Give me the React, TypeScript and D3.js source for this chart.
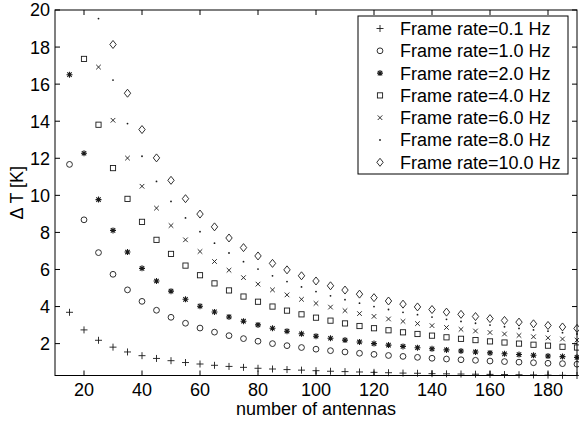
import React from "react";
import * as d3 from "d3";

// Number of antennas (x positions of every sample)
const antennas = [
  15, 20, 25, 30, 35, 40, 45, 50, 55, 60, 65, 70, 75, 80, 85, 90, 95, 100,
  105, 110, 115, 120, 125, 130, 135, 140, 145, 150, 155, 160, 165, 170, 175,
  180, 185, 190,
];

// Temperature uncertainty ΔT [K] per frame rate (first visible sample first)
const dt01 = [
  3.69, 2.74, 2.18, 1.81, 1.55, 1.35, 1.2, 1.08, 0.98, 0.9, 0.83, 0.77, 0.72,
  0.67, 0.63, 0.6, 0.57, 0.54, 0.51, 0.49, 0.47, 0.45, 0.43, 0.41, 0.4, 0.38,
  0.37, 0.36, 0.35, 0.34, 0.33, 0.32, 0.31, 0.3, 0.29, 0.28,
];
const dt1 = [
  11.67, 8.68, 6.91, 5.74, 4.9, 4.28, 3.8, 3.42, 3.1, 2.84, 2.62, 2.43, 2.27,
  2.13, 2.0, 1.89, 1.79, 1.7, 1.62, 1.55, 1.48, 1.42, 1.36, 1.31, 1.26, 1.21,
  1.17, 1.13, 1.1, 1.06, 1.03, 1.0, 0.97, 0.94, 0.92, 0.89,
];
const dt2 = [
  16.51, 12.27, 9.77, 8.11, 6.94, 6.06, 5.38, 4.83, 4.39, 4.02, 3.71, 3.44,
  3.21, 3.01, 2.83, 2.67, 2.53, 2.4, 2.29, 2.19, 2.09, 2.0, 1.92, 1.85, 1.78,
  1.72, 1.66, 1.6, 1.55, 1.5, 1.45, 1.41, 1.37, 1.33, 1.3, 1.26,
];
const dt4 = [
  17.36, 13.81, 11.47, 9.81, 8.57, 7.6, 6.84, 6.21, 5.69, 5.25, 4.87, 4.54,
  4.26, 4.0, 3.78, 3.58, 3.4, 3.24, 3.09, 2.95, 2.83, 2.72, 2.61, 2.52, 2.43,
  2.34, 2.26, 2.19, 2.12, 2.06, 2.0, 1.94, 1.89, 1.83, 1.79,
];
const dt6 = [
  16.92, 14.05, 12.01, 10.49, 9.31, 8.37, 7.6, 6.97, 6.43, 5.96, 5.56, 5.21,
  4.9, 4.63, 4.39, 4.17, 3.97, 3.78, 3.62, 3.47, 3.33, 3.2, 3.08, 2.97, 2.87,
  2.77, 2.68, 2.6, 2.52, 2.44, 2.37, 2.31, 2.25, 2.19,
];
const dt8 = [
  19.54, 16.22, 13.87, 12.11, 10.75, 9.67, 8.78, 8.04, 7.42, 6.89, 6.42, 6.02,
  5.66, 5.35, 5.06, 4.81, 4.58, 4.37, 4.18, 4.0, 3.84, 3.69, 3.56, 3.43, 3.31,
  3.2, 3.1, 3.0, 2.91, 2.82, 2.74, 2.67, 2.59, 2.52,
];
const dt10 = [
  18.14, 15.51, 13.55, 12.02, 10.81, 9.82, 8.99, 8.3, 7.7, 7.18, 6.73, 6.33,
  5.98, 5.66, 5.38, 5.12, 4.89, 4.67, 4.48, 4.3, 4.13, 3.98, 3.84, 3.7, 3.58,
  3.46, 3.35, 3.25, 3.16, 3.07, 2.98, 2.9, 2.82,
];

const labels = [
  "Frame rate=0.1 Hz",
  "Frame rate=1.0 Hz",
  "Frame rate=2.0 Hz",
  "Frame rate=4.0 Hz",
  "Frame rate=6.0 Hz",
  "Frame rate=8.0 Hz",
  "Frame rate=10.0 Hz",
];
const xTicks = [20, 40, 60, 80, 100, 120, 140, 160, 180];
const yTicks = [2, 4, 6, 8, 10, 12, 14, 16, 18, 20];

type Marker = "plus" | "circle" | "star" | "square" | "cross" | "dot" | "diamond";

const seriesList: { values: number[]; marker: Marker }[] = [
  { values: dt01, marker: "plus" },
  { values: dt1, marker: "circle" },
  { values: dt2, marker: "star" },
  { values: dt4, marker: "square" },
  { values: dt6, marker: "cross" },
  { values: dt8, marker: "dot" },
  { values: dt10, marker: "diamond" },
];

const W = 579;
const H = 421;
const margin = { left: 55, right: 1, top: 10, bottom: 45 };
const FONT = "'Liberation Sans', Arial, Helvetica, sans-serif";
const INK = "#1a1a1a";
const FS = 18;

function MarkerShape({ type, x, y }: { type: Marker; x: number; y: number }) {
  const t = `translate(${x},${y})`;
  const common = { fill: "none", stroke: INK, strokeWidth: 0.9 };
  switch (type) {
    case "plus":
      return <path transform={t} d="M-3.5,0H3.5M0,-3.5V3.5" {...common} />;
    case "circle":
      return <circle transform={t} r={2.9} {...common} />;
    case "star":
      return (
        <path
          transform={t}
          d="M-3,0H3M0,-3V3M-2.2,-2.2L2.2,2.2M-2.2,2.2L2.2,-2.2"
          {...common}
          strokeWidth={1.1}
        />
      );
    case "square":
      return <rect transform={t} x={-2.6} y={-2.6} width={5.2} height={5.2} {...common} />;
    case "cross":
      return <path transform={t} d="M-2.3,-2.3L2.3,2.3M-2.3,2.3L2.3,-2.3" {...common} />;
    case "dot":
      return <circle transform={t} r={0.9} fill={INK} />;
    case "diamond":
      return <path transform={t} d="M0,-4L3.2,0L0,4L-3.2,0Z" {...common} />;
  }
}

export default function App() {
  const allVals = seriesList.flatMap((s) => s.values);
  const x = d3
    .scaleLinear()
    .domain([10, 190])
    .range([margin.left, W - margin.right - 1]);
  const y = d3
    .scaleLinear()
    .domain([d3.min(allVals) as number, 20])
    .range([H - margin.bottom - 0.5, margin.top]);

  const [x0, x1] = x.range();
  const [yb, yt] = y.range();
  const tick = 5;

  const legendX = 358;
  const legendY = 16;
  const legendW = 210;
  const legendRow = 22.3;
  const legendH = 158;

  return (
    <svg
      width={W}
      height={H}
      style={{ position: "absolute", left: 0, top: 0, background: "#fff" }}
      fontFamily={FONT}
    >
      <rect x={0} y={0} width={W} height={H} fill="#fff" />

      {/* markers */}
      {seriesList.map((s, si) => {
        const xs = antennas.slice(antennas.length - s.values.length);
        return (
          <g key={si}>
            {s.values.map((v, i) => (
              <MarkerShape key={i} type={s.marker} x={x(xs[i])} y={y(v)} />
            ))}
          </g>
        );
      })}

      {/* axes box */}
      <rect
        x={x0}
        y={yt}
        width={x1 - x0}
        height={yb - yt}
        fill="none"
        stroke="#000"
        strokeWidth={1}
      />

      {/* x ticks (bottom and top, inward) */}
      {xTicks.map((t) => (
        <g key={`xt${t}`}>
          <line x1={x(t)} x2={x(t)} y1={yb} y2={yb - tick} stroke="#000" />
          <line x1={x(t)} x2={x(t)} y1={yt} y2={yt + tick} stroke="#000" />
          <text
            x={x(t)}
            y={yb + 20.5}
            textAnchor="middle"
            fontSize={FS}
            fill="#000"
          >
            {t}
          </text>
        </g>
      ))}

      {/* y ticks (left and right, inward) */}
      {yTicks.map((t) => (
        <g key={`yt${t}`}>
          <line x1={x0} x2={x0 + tick} y1={y(t)} y2={y(t)} stroke="#000" />
          <line x1={x1} x2={x1 - tick} y1={y(t)} y2={y(t)} stroke="#000" />
          <text
            x={x0 - 5}
            y={y(t)}
            dy="0.36em"
            textAnchor="end"
            fontSize={FS}
            fill="#000"
          >
            {t}
          </text>
        </g>
      ))}

      {/* axis labels */}
      <text
        x={(x0 + x1) / 2}
        y={H - 6}
        textAnchor="middle"
        fontSize={FS}
        fill="#000"
      >
        number of antennas
      </text>
      <text
        transform={`translate(23,${(yb + yt) / 2}) rotate(-90)`}
        textAnchor="middle"
        fontSize={FS}
        fill="#000"
      >
        Δ T [K]
      </text>

      {/* legend */}
      <g>
        <rect
          x={legendX}
          y={legendY}
          width={legendW}
          height={legendH}
          fill="#fff"
          stroke="#000"
          strokeWidth={1}
        />
        {labels.map((lab, i) => {
          const cy = legendY + 12.5 + i * legendRow;
          return (
            <g key={lab}>
              <MarkerShape type={seriesList[i].marker} x={legendX + 22} y={cy} />
              <text
                x={legendX + 42}
                y={cy}
                dy="0.36em"
                fontSize={FS}
                fill="#000"
              >
                {lab}
              </text>
            </g>
          );
        })}
      </g>
    </svg>
  );
}
